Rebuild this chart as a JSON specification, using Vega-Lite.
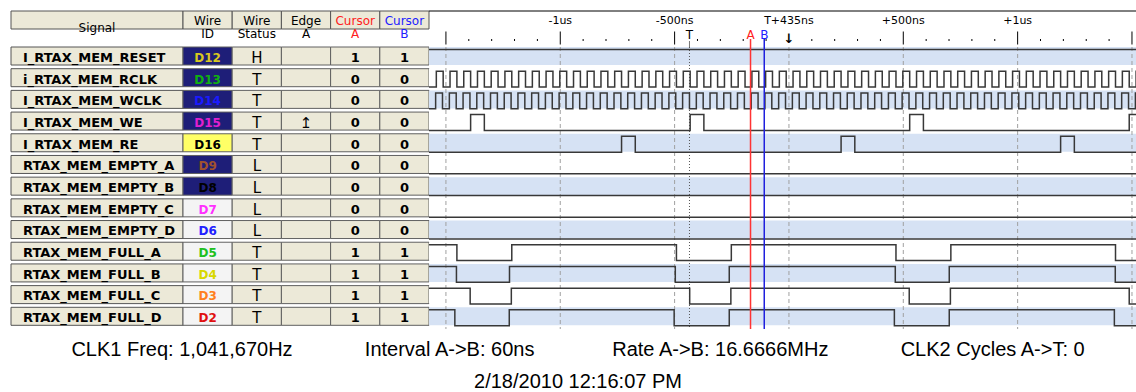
{
  "$schema": "https://vega.github.io/schema/vega-lite/v6.json",
  "padding": {"left": 10, "top": 10, "right": 0, "bottom": 0},
  "background": "#ffffff",
  "columns": 3,
  "spacing": 0,
  "bounds": "flush",
  "resolve": {"scale": {"color": "independent", "fill": "independent"}},
  "config": {"view": {"stroke": null}, "font": "DejaVu Sans"},
  "title": {
    "text": "CLK1 Freq: 1,041,670Hz\u00a0\u00a0\u00a0\u00a0\u00a0\u00a0\u00a0\u00a0\u00a0\u00a0\u00a0\u00a0\u00a0Interval A->B: 60ns\u00a0\u00a0\u00a0\u00a0\u00a0\u00a0\u00a0\u00a0\u00a0\u00a0\u00a0\u00a0\u00a0\u00a0Rate A->B: 16.6666MHz\u00a0\u00a0\u00a0\u00a0\u00a0\u00a0\u00a0\u00a0\u00a0\u00a0\u00a0\u00a0\u00a0CLK2 Cycles A->T: 0",
    "subtitle": "2/18/2010 12:16:07 PM",
    "orient": "bottom",
    "anchor": "middle",
    "dx": 4,
    "offset": 10,
    "font": "Liberation Sans",
    "fontSize": 20,
    "fontWeight": "normal",
    "color": "#000000",
    "subtitleFont": "Liberation Sans",
    "subtitleFontSize": 20,
    "subtitleColor": "#000000",
    "subtitlePadding": 12
  },
  "datasets": {
    "tbl": [
      {"sig": "I_RTAX_MEM_RESET", "id": "D12", "st": "H", "edge": "", "ca": "1", "cb": "1"},
      {"sig": "i_RTAX_MEM_RCLK", "id": "D13", "st": "T", "edge": "", "ca": "0", "cb": "0"},
      {"sig": "I_RTAX_MEM_WCLK", "id": "D14", "st": "T", "edge": "", "ca": "0", "cb": "0"},
      {"sig": "I_RTAX_MEM_WE", "id": "D15", "st": "T", "edge": "↥", "ca": "0", "cb": "0"},
      {"sig": "I_RTAX_MEM_RE", "id": "D16", "st": "T", "edge": "", "ca": "0", "cb": "0"},
      {"sig": "RTAX_MEM_EMPTY_A", "id": "D9", "st": "L", "edge": "", "ca": "0", "cb": "0"},
      {"sig": "RTAX_MEM_EMPTY_B", "id": "D8", "st": "L", "edge": "", "ca": "0", "cb": "0"},
      {"sig": "RTAX_MEM_EMPTY_C", "id": "D7", "st": "L", "edge": "", "ca": "0", "cb": "0"},
      {"sig": "RTAX_MEM_EMPTY_D", "id": "D6", "st": "L", "edge": "", "ca": "0", "cb": "0"},
      {"sig": "RTAX_MEM_FULL_A", "id": "D5", "st": "T", "edge": "", "ca": "1", "cb": "1"},
      {"sig": "RTAX_MEM_FULL_B", "id": "D4", "st": "T", "edge": "", "ca": "1", "cb": "1"},
      {"sig": "RTAX_MEM_FULL_C", "id": "D3", "st": "T", "edge": "", "ca": "1", "cb": "1"},
      {"sig": "RTAX_MEM_FULL_D", "id": "D2", "st": "T", "edge": "", "ca": "1", "cb": "1"}
    ],
    "hdr": [
      {"col": "id", "r": "h", "l": ["Wire", "ID"]},
      {"col": "st", "r": "h", "l": ["Wire", "Status"]},
      {"col": "edge", "r": "h", "l": ["Edge", "A"]},
      {"col": "ca", "r": "h", "l": ["Cursor", "A"]},
      {"col": "cb", "r": "h", "l": ["Cursor", "B"]}
    ],
    "tlab": [
      {"t": -1000, "l": "-1us", "lane": "lbl"},
      {"t": -500, "l": "-500ns", "lane": "lbl"},
      {"t": 0, "l": "T+435ns", "lane": "lbl"},
      {"t": 500, "l": "+500ns", "lane": "lbl"},
      {"t": 1000, "l": "+1us", "lane": "lbl"}
    ],
    "mk": [
      {"t": -435, "l": "T", "c": "T", "lane": "mk"},
      {"t": -168, "l": "A", "c": "A", "lane": "mk"},
      {"t": -108, "l": "B", "c": "B", "lane": "mk"}
    ],
    "htk": [
      {"t": -1500, "k": "maj", "lane": "mk"}, {"t": -1000, "k": "maj", "lane": "mk"}, {"t": -500, "k": "maj", "lane": "mk"},
      {"t": 500, "k": "maj", "lane": "mk"}, {"t": 1000, "k": "maj", "lane": "mk"}, {"t": 1500, "k": "maj", "lane": "mk"},
      {"t": -1400, "k": "min", "lane": "mk"}, {"t": -1300, "k": "min", "lane": "mk"}, {"t": -1200, "k": "min", "lane": "mk"}, {"t": -1100, "k": "min", "lane": "mk"},
      {"t": -900, "k": "min", "lane": "mk"}, {"t": -800, "k": "min", "lane": "mk"}, {"t": -700, "k": "min", "lane": "mk"}, {"t": -600, "k": "min", "lane": "mk"},
      {"t": -400, "k": "min", "lane": "mk"}, {"t": -300, "k": "min", "lane": "mk"}, {"t": -200, "k": "min", "lane": "mk"}, {"t": -100, "k": "min", "lane": "mk"},
      {"t": 100, "k": "min", "lane": "mk"}, {"t": 200, "k": "min", "lane": "mk"}, {"t": 300, "k": "min", "lane": "mk"}, {"t": 400, "k": "min", "lane": "mk"},
      {"t": 600, "k": "min", "lane": "mk"}, {"t": 700, "k": "min", "lane": "mk"}, {"t": 800, "k": "min", "lane": "mk"}, {"t": 900, "k": "min", "lane": "mk"},
      {"t": 1100, "k": "min", "lane": "mk"}, {"t": 1200, "k": "min", "lane": "mk"}, {"t": 1300, "k": "min", "lane": "mk"}, {"t": 1400, "k": "min", "lane": "mk"},
      {"t": -435, "k": "T", "lane": "mk"},
      {"t": -168, "k": "A", "lane": "mk"},
      {"t": -108, "k": "B", "lane": "mk"}
    ],
    "gl": [
      {"t": -1500, "k": "maj"}, {"t": -1000, "k": "maj"}, {"t": -500, "k": "maj"}, {"t": 0, "k": "maj"},
      {"t": 500, "k": "maj"}, {"t": 1000, "k": "maj"}, {"t": 1500, "k": "maj"},
      {"t": -435, "k": "T"},
      {"t": -168, "k": "A"},
      {"t": -108, "k": "B"}
    ],
    "wave": [
      {"s": "RST", "t": -1600, "v": 1}, {"s": "RST", "t": 1600, "v": 1},
      {"s": "RCLK", "t": -1600, "v": 0},
      {"s": "RCLK", "t": -1542, "v": 1}, {"s": "RCLK", "t": -1512, "v": 0},
      {"s": "RCLK", "t": -1482, "v": 1}, {"s": "RCLK", "t": -1452, "v": 0},
      {"s": "RCLK", "t": -1422, "v": 1}, {"s": "RCLK", "t": -1392, "v": 0},
      {"s": "RCLK", "t": -1362, "v": 1}, {"s": "RCLK", "t": -1332, "v": 0},
      {"s": "RCLK", "t": -1302, "v": 1}, {"s": "RCLK", "t": -1272, "v": 0},
      {"s": "RCLK", "t": -1242, "v": 1}, {"s": "RCLK", "t": -1212, "v": 0},
      {"s": "RCLK", "t": -1182, "v": 1}, {"s": "RCLK", "t": -1152, "v": 0},
      {"s": "RCLK", "t": -1122, "v": 1}, {"s": "RCLK", "t": -1092, "v": 0},
      {"s": "RCLK", "t": -1062, "v": 1}, {"s": "RCLK", "t": -1032, "v": 0},
      {"s": "RCLK", "t": -1002, "v": 1}, {"s": "RCLK", "t": -972, "v": 0},
      {"s": "RCLK", "t": -942, "v": 1}, {"s": "RCLK", "t": -912, "v": 0},
      {"s": "RCLK", "t": -882, "v": 1}, {"s": "RCLK", "t": -852, "v": 0},
      {"s": "RCLK", "t": -822, "v": 1}, {"s": "RCLK", "t": -792, "v": 0},
      {"s": "RCLK", "t": -762, "v": 1}, {"s": "RCLK", "t": -732, "v": 0},
      {"s": "RCLK", "t": -702, "v": 1}, {"s": "RCLK", "t": -672, "v": 0},
      {"s": "RCLK", "t": -642, "v": 1}, {"s": "RCLK", "t": -612, "v": 0},
      {"s": "RCLK", "t": -582, "v": 1}, {"s": "RCLK", "t": -552, "v": 0},
      {"s": "RCLK", "t": -522, "v": 1}, {"s": "RCLK", "t": -492, "v": 0},
      {"s": "RCLK", "t": -462, "v": 1}, {"s": "RCLK", "t": -432, "v": 0},
      {"s": "RCLK", "t": -402, "v": 1}, {"s": "RCLK", "t": -372, "v": 0},
      {"s": "RCLK", "t": -342, "v": 1}, {"s": "RCLK", "t": -312, "v": 0},
      {"s": "RCLK", "t": -282, "v": 1}, {"s": "RCLK", "t": -252, "v": 0},
      {"s": "RCLK", "t": -222, "v": 1}, {"s": "RCLK", "t": -192, "v": 0},
      {"s": "RCLK", "t": -162, "v": 1}, {"s": "RCLK", "t": -132, "v": 0},
      {"s": "RCLK", "t": -102, "v": 1}, {"s": "RCLK", "t": -72, "v": 0},
      {"s": "RCLK", "t": -42, "v": 1}, {"s": "RCLK", "t": -12, "v": 0},
      {"s": "RCLK", "t": 18, "v": 1}, {"s": "RCLK", "t": 48, "v": 0},
      {"s": "RCLK", "t": 78, "v": 1}, {"s": "RCLK", "t": 108, "v": 0},
      {"s": "RCLK", "t": 138, "v": 1}, {"s": "RCLK", "t": 168, "v": 0},
      {"s": "RCLK", "t": 198, "v": 1}, {"s": "RCLK", "t": 228, "v": 0},
      {"s": "RCLK", "t": 258, "v": 1}, {"s": "RCLK", "t": 288, "v": 0},
      {"s": "RCLK", "t": 318, "v": 1}, {"s": "RCLK", "t": 348, "v": 0},
      {"s": "RCLK", "t": 378, "v": 1}, {"s": "RCLK", "t": 408, "v": 0},
      {"s": "RCLK", "t": 438, "v": 1}, {"s": "RCLK", "t": 468, "v": 0},
      {"s": "RCLK", "t": 498, "v": 1}, {"s": "RCLK", "t": 528, "v": 0},
      {"s": "RCLK", "t": 558, "v": 1}, {"s": "RCLK", "t": 588, "v": 0},
      {"s": "RCLK", "t": 618, "v": 1}, {"s": "RCLK", "t": 648, "v": 0},
      {"s": "RCLK", "t": 678, "v": 1}, {"s": "RCLK", "t": 708, "v": 0},
      {"s": "RCLK", "t": 738, "v": 1}, {"s": "RCLK", "t": 768, "v": 0},
      {"s": "RCLK", "t": 798, "v": 1}, {"s": "RCLK", "t": 828, "v": 0},
      {"s": "RCLK", "t": 858, "v": 1}, {"s": "RCLK", "t": 888, "v": 0},
      {"s": "RCLK", "t": 918, "v": 1}, {"s": "RCLK", "t": 948, "v": 0},
      {"s": "RCLK", "t": 978, "v": 1}, {"s": "RCLK", "t": 1008, "v": 0},
      {"s": "RCLK", "t": 1038, "v": 1}, {"s": "RCLK", "t": 1068, "v": 0},
      {"s": "RCLK", "t": 1098, "v": 1}, {"s": "RCLK", "t": 1128, "v": 0},
      {"s": "RCLK", "t": 1158, "v": 1}, {"s": "RCLK", "t": 1188, "v": 0},
      {"s": "RCLK", "t": 1218, "v": 1}, {"s": "RCLK", "t": 1248, "v": 0},
      {"s": "RCLK", "t": 1278, "v": 1}, {"s": "RCLK", "t": 1308, "v": 0},
      {"s": "RCLK", "t": 1338, "v": 1}, {"s": "RCLK", "t": 1368, "v": 0},
      {"s": "RCLK", "t": 1398, "v": 1}, {"s": "RCLK", "t": 1428, "v": 0},
      {"s": "RCLK", "t": 1458, "v": 1}, {"s": "RCLK", "t": 1488, "v": 0},
      {"s": "RCLK", "t": 1518, "v": 1}, {"s": "RCLK", "t": 1548, "v": 0},
      {"s": "WCLK", "t": -1600, "v": 0},
      {"s": "WCLK", "t": -1545, "v": 1}, {"s": "WCLK", "t": -1515, "v": 0},
      {"s": "WCLK", "t": -1485, "v": 1}, {"s": "WCLK", "t": -1455, "v": 0},
      {"s": "WCLK", "t": -1425, "v": 1}, {"s": "WCLK", "t": -1395, "v": 0},
      {"s": "WCLK", "t": -1365, "v": 1}, {"s": "WCLK", "t": -1335, "v": 0},
      {"s": "WCLK", "t": -1305, "v": 1}, {"s": "WCLK", "t": -1275, "v": 0},
      {"s": "WCLK", "t": -1245, "v": 1}, {"s": "WCLK", "t": -1215, "v": 0},
      {"s": "WCLK", "t": -1185, "v": 1}, {"s": "WCLK", "t": -1155, "v": 0},
      {"s": "WCLK", "t": -1125, "v": 1}, {"s": "WCLK", "t": -1095, "v": 0},
      {"s": "WCLK", "t": -1065, "v": 1}, {"s": "WCLK", "t": -1035, "v": 0},
      {"s": "WCLK", "t": -1005, "v": 1}, {"s": "WCLK", "t": -975, "v": 0},
      {"s": "WCLK", "t": -945, "v": 1}, {"s": "WCLK", "t": -915, "v": 0},
      {"s": "WCLK", "t": -885, "v": 1}, {"s": "WCLK", "t": -855, "v": 0},
      {"s": "WCLK", "t": -825, "v": 1}, {"s": "WCLK", "t": -795, "v": 0},
      {"s": "WCLK", "t": -765, "v": 1}, {"s": "WCLK", "t": -735, "v": 0},
      {"s": "WCLK", "t": -705, "v": 1}, {"s": "WCLK", "t": -675, "v": 0},
      {"s": "WCLK", "t": -645, "v": 1}, {"s": "WCLK", "t": -615, "v": 0},
      {"s": "WCLK", "t": -585, "v": 1}, {"s": "WCLK", "t": -555, "v": 0},
      {"s": "WCLK", "t": -525, "v": 1}, {"s": "WCLK", "t": -495, "v": 0},
      {"s": "WCLK", "t": -465, "v": 1}, {"s": "WCLK", "t": -435, "v": 0},
      {"s": "WCLK", "t": -405, "v": 1}, {"s": "WCLK", "t": -375, "v": 0},
      {"s": "WCLK", "t": -345, "v": 1}, {"s": "WCLK", "t": -315, "v": 0},
      {"s": "WCLK", "t": -285, "v": 1}, {"s": "WCLK", "t": -255, "v": 0},
      {"s": "WCLK", "t": -225, "v": 1}, {"s": "WCLK", "t": -195, "v": 0},
      {"s": "WCLK", "t": -165, "v": 1}, {"s": "WCLK", "t": -135, "v": 0},
      {"s": "WCLK", "t": -105, "v": 1}, {"s": "WCLK", "t": -75, "v": 0},
      {"s": "WCLK", "t": -45, "v": 1}, {"s": "WCLK", "t": -15, "v": 0},
      {"s": "WCLK", "t": 15, "v": 1}, {"s": "WCLK", "t": 45, "v": 0},
      {"s": "WCLK", "t": 75, "v": 1}, {"s": "WCLK", "t": 105, "v": 0},
      {"s": "WCLK", "t": 135, "v": 1}, {"s": "WCLK", "t": 165, "v": 0},
      {"s": "WCLK", "t": 195, "v": 1}, {"s": "WCLK", "t": 225, "v": 0},
      {"s": "WCLK", "t": 255, "v": 1}, {"s": "WCLK", "t": 285, "v": 0},
      {"s": "WCLK", "t": 315, "v": 1}, {"s": "WCLK", "t": 345, "v": 0},
      {"s": "WCLK", "t": 375, "v": 1}, {"s": "WCLK", "t": 405, "v": 0},
      {"s": "WCLK", "t": 435, "v": 1}, {"s": "WCLK", "t": 465, "v": 0},
      {"s": "WCLK", "t": 495, "v": 1}, {"s": "WCLK", "t": 525, "v": 0},
      {"s": "WCLK", "t": 555, "v": 1}, {"s": "WCLK", "t": 585, "v": 0},
      {"s": "WCLK", "t": 615, "v": 1}, {"s": "WCLK", "t": 645, "v": 0},
      {"s": "WCLK", "t": 675, "v": 1}, {"s": "WCLK", "t": 705, "v": 0},
      {"s": "WCLK", "t": 735, "v": 1}, {"s": "WCLK", "t": 765, "v": 0},
      {"s": "WCLK", "t": 795, "v": 1}, {"s": "WCLK", "t": 825, "v": 0},
      {"s": "WCLK", "t": 855, "v": 1}, {"s": "WCLK", "t": 885, "v": 0},
      {"s": "WCLK", "t": 915, "v": 1}, {"s": "WCLK", "t": 945, "v": 0},
      {"s": "WCLK", "t": 975, "v": 1}, {"s": "WCLK", "t": 1005, "v": 0},
      {"s": "WCLK", "t": 1035, "v": 1}, {"s": "WCLK", "t": 1065, "v": 0},
      {"s": "WCLK", "t": 1095, "v": 1}, {"s": "WCLK", "t": 1125, "v": 0},
      {"s": "WCLK", "t": 1155, "v": 1}, {"s": "WCLK", "t": 1185, "v": 0},
      {"s": "WCLK", "t": 1215, "v": 1}, {"s": "WCLK", "t": 1245, "v": 0},
      {"s": "WCLK", "t": 1275, "v": 1}, {"s": "WCLK", "t": 1305, "v": 0},
      {"s": "WCLK", "t": 1335, "v": 1}, {"s": "WCLK", "t": 1365, "v": 0},
      {"s": "WCLK", "t": 1395, "v": 1}, {"s": "WCLK", "t": 1425, "v": 0},
      {"s": "WCLK", "t": 1455, "v": 1}, {"s": "WCLK", "t": 1485, "v": 0},
      {"s": "WCLK", "t": 1515, "v": 1}, {"s": "WCLK", "t": 1545, "v": 0},
      {"s": "WE", "t": -1600, "v": 0}, {"s": "WE", "t": -1392, "v": 1}, {"s": "WE", "t": -1332, "v": 0},
      {"s": "WE", "t": -432, "v": 1}, {"s": "WE", "t": -372, "v": 0},
      {"s": "WE", "t": 528, "v": 1}, {"s": "WE", "t": 588, "v": 0},
      {"s": "WE", "t": 1488, "v": 1}, {"s": "WE", "t": 1600, "v": 1},
      {"s": "RE", "t": -1600, "v": 0}, {"s": "RE", "t": -732, "v": 1}, {"s": "RE", "t": -672, "v": 0},
      {"s": "RE", "t": 228, "v": 1}, {"s": "RE", "t": 288, "v": 0},
      {"s": "RE", "t": 1188, "v": 1}, {"s": "RE", "t": 1248, "v": 0}, {"s": "RE", "t": 1600, "v": 0},
      {"s": "EA", "t": -1600, "v": 0}, {"s": "EA", "t": 1600, "v": 0},
      {"s": "EB", "t": -1600, "v": 0}, {"s": "EB", "t": 1600, "v": 0},
      {"s": "EC", "t": -1600, "v": 0}, {"s": "EC", "t": 1600, "v": 0},
      {"s": "ED", "t": -1600, "v": 0}, {"s": "ED", "t": 1600, "v": 0},
      {"s": "FA", "t": -1600, "v": 1}, {"s": "FA", "t": -1452, "v": 0}, {"s": "FA", "t": -1212, "v": 1},
      {"s": "FA", "t": -492, "v": 0}, {"s": "FA", "t": -252, "v": 1},
      {"s": "FA", "t": 468, "v": 0}, {"s": "FA", "t": 708, "v": 1},
      {"s": "FA", "t": 1428, "v": 0}, {"s": "FA", "t": 1600, "v": 0},
      {"s": "FB", "t": -1600, "v": 1}, {"s": "FB", "t": -1454, "v": 0}, {"s": "FB", "t": -1222, "v": 1},
      {"s": "FB", "t": -497, "v": 0}, {"s": "FB", "t": -261, "v": 1},
      {"s": "FB", "t": 465, "v": 0}, {"s": "FB", "t": 701, "v": 1},
      {"s": "FB", "t": 1427, "v": 0}, {"s": "FB", "t": 1600, "v": 0},
      {"s": "FC", "t": -1600, "v": 1}, {"s": "FC", "t": -1394, "v": 0}, {"s": "FC", "t": -1214, "v": 1},
      {"s": "FC", "t": -434, "v": 0}, {"s": "FC", "t": -254, "v": 1},
      {"s": "FC", "t": 526, "v": 0}, {"s": "FC", "t": 706, "v": 1},
      {"s": "FC", "t": 1488, "v": 0}, {"s": "FC", "t": 1600, "v": 0},
      {"s": "FD", "t": -1600, "v": 1}, {"s": "FD", "t": -1461, "v": 0}, {"s": "FD", "t": -1223, "v": 1},
      {"s": "FD", "t": -502, "v": 0}, {"s": "FD", "t": -261, "v": 1},
      {"s": "FD", "t": 461, "v": 0}, {"s": "FD", "t": 701, "v": 1},
      {"s": "FD", "t": 1423, "v": 0}, {"s": "FD", "t": 1600, "v": 0}
    ]
  },
  "concat": [
    {
      "width": 172, "height": 36,
      "data": {"values": [{"c": "Signal", "r": "h"}]},
      "encoding": {
        "x": {"field": "c", "type": "nominal", "scale": {"paddingInner": 0, "paddingOuter": 0}, "axis": null},
        "y": {"field": "r", "type": "nominal", "scale": {"paddingInner": 0, "paddingOuter": 0}, "axis": null}
      },
      "layer": [
        {"mark": {"type": "rect", "fill": "#ece9d8", "stroke": "#555555", "strokeWidth": 1}},
        {"mark": {"type": "text", "fontSize": 12, "dy": -1, "color": "#000000"}, "encoding": {"text": {"field": "c"}}}
      ]
    },
    {
      "width": 246, "height": 36,
      "data": {"name": "hdr"},
      "encoding": {
        "x": {"field": "col", "type": "nominal", "scale": {"domain": ["id", "st", "edge", "ca", "cb"], "paddingInner": 0, "paddingOuter": 0}, "axis": null},
        "y": {"field": "r", "type": "nominal", "scale": {"paddingInner": 0, "paddingOuter": 0}, "axis": null}
      },
      "layer": [
        {"mark": {"type": "rect", "fill": "#ece9d8", "stroke": "#555555", "strokeWidth": 1}},
        {
          "mark": {"type": "text", "fontSize": 12, "lineHeight": 13, "dy": -8.5},
          "encoding": {
            "text": {"field": "l"},
            "color": {"field": "col", "type": "nominal", "scale": {"domain": ["id", "st", "edge", "ca", "cb"], "range": ["#000000", "#000000", "#000000", "#ff2020", "#2020ff"]}, "legend": null}
          }
        }
      ]
    },
    {
      "width": 708, "height": 36,
      "layer": [
        {
          "data": {"name": "tlab"},
          "mark": {"type": "text", "fontSize": 11, "dy": 1, "color": "#000000"},
          "encoding": {
            "x": {"field": "t", "type": "quantitative", "scale": {"domain": [-1574, 1522], "nice": false, "zero": false}, "axis": null},
            "y": {"field": "lane", "type": "nominal", "scale": {"domain": ["lbl", "mk"], "paddingInner": 0, "paddingOuter": 0}, "axis": null},
            "text": {"field": "l"}
          }
        },
        {
          "data": {"name": "mk"},
          "mark": {"type": "text", "fontSize": 12, "dy": -3},
          "encoding": {
            "x": {"field": "t", "type": "quantitative", "axis": null},
            "y": {"field": "lane", "type": "nominal", "axis": null},
            "text": {"field": "l"},
            "color": {"field": "c", "type": "nominal", "scale": {"domain": ["T", "A", "B"], "range": ["#000000", "#ff2020", "#2020ff"]}, "legend": null}
          }
        },
        {
          "data": {"values": [{"t": 0, "l": "↓", "lane": "mk"}]},
          "mark": {"type": "text", "fontSize": 13, "fontWeight": "bold", "dy": 1, "color": "#000000"},
          "encoding": {
            "x": {"field": "t", "type": "quantitative", "axis": null},
            "y": {"field": "lane", "type": "nominal", "axis": null},
            "text": {"field": "l"}
          }
        },
        {
          "data": {"values": [{"t0": -1574, "t1": 1522, "lane": "lbl"}]},
          "mark": {"type": "rule", "color": "#000000", "strokeWidth": 1},
          "encoding": {
            "x": {"field": "t0", "type": "quantitative", "axis": null},
            "x2": {"field": "t1"},
            "y": {"field": "lane", "type": "nominal", "bandPosition": 0, "axis": null}
          }
        },
        {
          "data": {"name": "htk"},
          "transform": [{"filter": "datum.k == 'maj'"}],
          "mark": {"type": "tick", "color": "#000000", "size": 13, "thickness": 1, "opacity": 1},
          "encoding": {
            "x": {"field": "t", "type": "quantitative", "axis": null},
            "y": {"field": "lane", "type": "nominal", "axis": null}
          }
        },
        {
          "data": {"name": "htk"},
          "transform": [{"filter": "datum.k == 'min'"}],
          "mark": {"type": "tick", "color": "#000000", "size": 2, "thickness": 1, "yOffset": 2, "opacity": 1},
          "encoding": {
            "x": {"field": "t", "type": "quantitative", "axis": null},
            "y": {"field": "lane", "type": "nominal", "axis": null}
          }
        },
        {
          "data": {"name": "htk"},
          "transform": [{"filter": "datum.k == 'T'"}],
          "mark": {"type": "tick", "color": "#777777", "size": 6, "thickness": 1, "yOffset": 6, "opacity": 1},
          "encoding": {
            "x": {"field": "t", "type": "quantitative", "axis": null},
            "y": {"field": "lane", "type": "nominal", "axis": null}
          }
        },
        {
          "data": {"name": "htk"},
          "transform": [{"filter": "datum.k == 'A'"}],
          "mark": {"type": "tick", "color": "#ff3333", "size": 8, "thickness": 1.5, "yOffset": 5, "opacity": 1},
          "encoding": {
            "x": {"field": "t", "type": "quantitative", "axis": null},
            "y": {"field": "lane", "type": "nominal", "axis": null}
          }
        },
        {
          "data": {"name": "htk"},
          "transform": [{"filter": "datum.k == 'B'"}],
          "mark": {"type": "tick", "color": "#2020dd", "size": 8, "thickness": 1.5, "yOffset": 5, "opacity": 1},
          "encoding": {
            "x": {"field": "t", "type": "quantitative", "axis": null},
            "y": {"field": "lane", "type": "nominal", "axis": null}
          }
        }
      ]
    },
    {
      "width": 172, "height": 282,
      "data": {"name": "tbl"},
      "encoding": {
        "x": {"datum": "Signal", "type": "nominal", "scale": {"paddingInner": 0, "paddingOuter": 0}, "axis": null},
        "y": {"field": "sig", "type": "nominal", "scale": {"domain": ["I_RTAX_MEM_RESET", "i_RTAX_MEM_RCLK", "I_RTAX_MEM_WCLK", "I_RTAX_MEM_WE", "I_RTAX_MEM_RE", "RTAX_MEM_EMPTY_A", "RTAX_MEM_EMPTY_B", "RTAX_MEM_EMPTY_C", "RTAX_MEM_EMPTY_D", "RTAX_MEM_FULL_A", "RTAX_MEM_FULL_B", "RTAX_MEM_FULL_C", "RTAX_MEM_FULL_D"], "paddingInner": 0, "paddingOuter": 0}, "axis": null}
      },
      "layer": [
        {"mark": {"type": "rect", "fill": "#ece9d8", "stroke": "#555555", "strokeWidth": 1}},
        {"mark": {"type": "text", "fontSize": 13, "fontWeight": "bold", "align": "left", "dx": -74, "color": "#000000"}, "encoding": {"text": {"field": "sig"}}}
      ]
    },
    {
      "width": 246, "height": 282,
      "data": {"name": "tbl"},
      "transform": [{"fold": ["id", "st", "edge", "ca", "cb"], "as": ["key", "val"]}],
      "encoding": {
        "x": {"field": "key", "type": "nominal", "scale": {"domain": ["id", "st", "edge", "ca", "cb"], "paddingInner": 0, "paddingOuter": 0}, "axis": null},
        "y": {"field": "sig", "type": "nominal", "scale": {"domain": ["I_RTAX_MEM_RESET", "i_RTAX_MEM_RCLK", "I_RTAX_MEM_WCLK", "I_RTAX_MEM_WE", "I_RTAX_MEM_RE", "RTAX_MEM_EMPTY_A", "RTAX_MEM_EMPTY_B", "RTAX_MEM_EMPTY_C", "RTAX_MEM_EMPTY_D", "RTAX_MEM_FULL_A", "RTAX_MEM_FULL_B", "RTAX_MEM_FULL_C", "RTAX_MEM_FULL_D"], "paddingInner": 0, "paddingOuter": 0}, "axis": null}
      },
      "layer": [
        {
          "mark": {"type": "rect", "stroke": "#606060", "strokeWidth": 1},
          "encoding": {
            "fill": {
              "condition": {"test": "datum.key == 'id'", "field": "val", "type": "nominal", "scale": {"domain": ["D12", "D13", "D14", "D15", "D16", "D9", "D8", "D7", "D6", "D5", "D4", "D3", "D2"], "range": ["#1e1e78", "#1e1e78", "#1e1e78", "#1e1e78", "#ffff66", "#1e1e78", "#1e1e78", "#f4f4f4", "#f4f4f4", "#f4f4f4", "#f4f4f4", "#f4f4f4", "#f4f4f4"]}, "legend": null},
              "value": "#ece9d8"
            }
          }
        },
        {
          "transform": [{"filter": "datum.key == 'id'"}],
          "mark": {"type": "text", "fontSize": 12, "fontWeight": "bold"},
          "encoding": {
            "text": {"field": "val"},
            "color": {"field": "val", "type": "nominal", "scale": {"domain": ["D12", "D13", "D14", "D15", "D16", "D9", "D8", "D7", "D6", "D5", "D4", "D3", "D2"], "range": ["#d8c820", "#10b010", "#1a1aff", "#e020d0", "#000000", "#a0522d", "#000000", "#ff30ff", "#2020ff", "#20c020", "#d8d800", "#ff8020", "#e01010"]}, "legend": null}
          }
        },
        {
          "transform": [{"filter": "datum.key == 'ca' || datum.key == 'cb'"}],
          "mark": {"type": "text", "fontSize": 13, "fontWeight": "bold", "color": "#000000"},
          "encoding": {"text": {"field": "val"}}
        },
        {
          "transform": [{"filter": "datum.key == 'st' || datum.key == 'edge'"}],
          "mark": {"type": "text", "fontSize": 15, "color": "#000000"},
          "encoding": {"text": {"field": "val"}}
        }
      ]
    },
    {
      "width": 708, "height": 282,
      "layer": [
        {
          "data": {"name": "wave"},
          "transform": [{"aggregate": [{"op": "min", "field": "t", "as": "t0"}, {"op": "max", "field": "t", "as": "t1"}], "groupby": ["s"]}],
          "mark": {"type": "rect", "clip": true},
          "encoding": {
            "x": {"field": "t0", "type": "quantitative", "scale": {"domain": [-1574, 1522], "nice": false, "zero": false}, "axis": null},
            "x2": {"field": "t1"},
            "y": {"field": "s", "type": "nominal", "scale": {"domain": ["RST", "RCLK", "WCLK", "WE", "RE", "EA", "EB", "EC", "ED", "FA", "FB", "FC", "FD"], "paddingInner": 0, "paddingOuter": 0}, "axis": null},
            "fill": {"field": "s", "type": "nominal", "scale": {"domain": ["RST", "RCLK", "WCLK", "WE", "RE", "EA", "EB", "EC", "ED", "FA", "FB", "FC", "FD"], "range": ["#d6e2f4", "#ffffff", "#d6e2f4", "#ffffff", "#d6e2f4", "#ffffff", "#d6e2f4", "#ffffff", "#d6e2f4", "#ffffff", "#d6e2f4", "#ffffff", "#d6e2f4"]}, "legend": null}
          }
        },
        {
          "data": {"name": "gl"},
          "transform": [{"filter": "datum.k == 'maj'"}],
          "mark": {"type": "rule", "color": "#a0a0a0", "strokeWidth": 1, "strokeDash": [4, 3]},
          "encoding": {"x": {"field": "t", "type": "quantitative", "axis": null}}
        },
        {
          "data": {"name": "gl"},
          "transform": [{"filter": "datum.k == 'T'"}],
          "mark": {"type": "rule", "color": "#555555", "strokeWidth": 1, "strokeDash": [1, 2]},
          "encoding": {"x": {"field": "t", "type": "quantitative", "axis": null}}
        },
        {
          "data": {"name": "wave"},
          "mark": {"type": "line", "interpolate": "step-after", "color": "#383838", "strokeWidth": 1.5, "clip": true},
          "encoding": {
            "x": {"field": "t", "type": "quantitative", "axis": null},
            "y": {"field": "s", "type": "nominal", "axis": null},
            "yOffset": {"field": "v", "type": "quantitative", "scale": {"domain": [1.16, -0.21], "nice": false, "zero": false}},
            "detail": {"field": "s", "type": "nominal"},
            "order": {"field": "t", "type": "quantitative"}
          }
        },
        {
          "data": {"name": "gl"},
          "transform": [{"filter": "datum.k == 'A'"}],
          "mark": {"type": "rule", "color": "#ff3333", "strokeWidth": 1.5},
          "encoding": {"x": {"field": "t", "type": "quantitative", "axis": null}}
        },
        {
          "data": {"name": "gl"},
          "transform": [{"filter": "datum.k == 'B'"}],
          "mark": {"type": "rule", "color": "#2020dd", "strokeWidth": 1.5},
          "encoding": {"x": {"field": "t", "type": "quantitative", "axis": null}}
        }
      ]
    }
  ]
}
